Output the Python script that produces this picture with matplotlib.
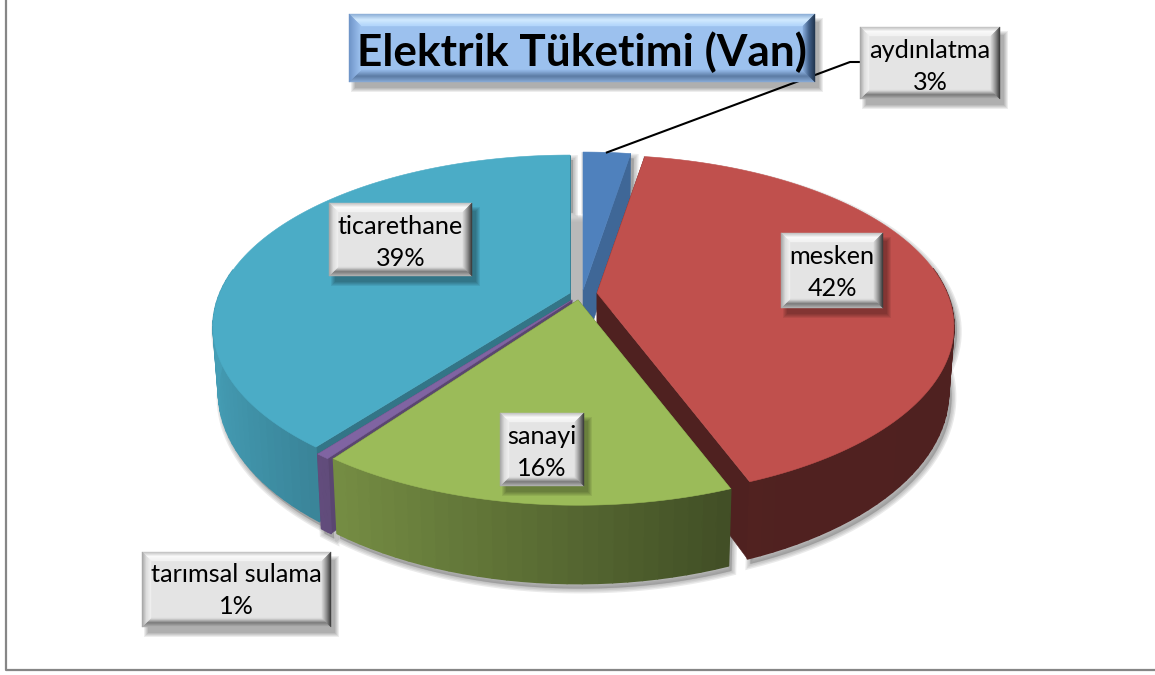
import numpy as np
from matplotlib import pyplot as plt
from matplotlib.patches import Polygon, Rectangle
from matplotlib.colors import to_rgb

plt.rcParams['font.family'] = ['Lato', 'DejaVu Sans']

# data
names = ['aydınlatma', 'mesken', 'sanayi', 'tarımsal sulama', 'ticarethane']
shares = [2.6, 41.6, 15.8, 0.52, 39.48]
title_text = 'Elektrik Tüketimi (Van)'

# style
colors = ['#4F81BD', '#C0504D', '#9BBB59', '#8064A2', '#4BACC6']
cut_shade = [0.8, 0.41, 0.42, 0.7, 0.68]
draw_order = [0, 4, 3, 1, 2]
shift_x = [8, 22, 3, -3, -5]
shift_y = [-8, -5, 2, 2, -5]
label_boxes = [(860, 27, 1000, 99), (781, 233, 883, 308), (500, 413, 584, 486),
               (142, 552, 331, 627), (329, 203, 472, 276)]

CX, CY = 575, 298
RX, RY = 350, 165
P = 0.196
DEPTH = 63
GRAY_BEVEL = dict(face='#e4e4e4', top=['#c4c4c4', '#fafafa', '#f2f2f2'],
                  left=['#a8a8a8', '#dcdcdc', '#eeeeee'],
                  right=['#3c3c3c', '#8c8c8c', '#cfcfcf'],
                  bottom=['#b0b0b0', '#7c7c7c', '#d8d8d8'])
BLUE_BEVEL = dict(face='#9CC1EE', top=['#8fb0d8', '#d2eaff', '#b4d6fb'],
                  left=['#6f95c8', '#86abdc', '#9cc1ee'],
                  right=['#22364f', '#3f5d85', '#7fa3d2'],
                  bottom=['#86a8d4', '#5b7aa3', '#8fb3e2'])


def project(t, r=1.0, dx=0, dy=0):
    u = r * np.sin(t)
    v = r * np.cos(t)
    s = 1 / (1 + P * v)
    return CX + dx + RX * u * s, CY + dy - RY * v * s, s


def low(x, y, s, dx):
    x0 = CX + dx
    return x0 + (x - x0) * 0.985, y + DEPTH * s


def mix(c, k):
    return tuple(np.clip(np.array(to_rgb(c)) * k, 0, 1))


def wall_shade(u):
    return np.interp(u, [-1, -0.6, 0.35, 1], [0.92, 0.76, 0.42, 0.41])


def bevel_box(ax, box, style, w, zorder, shadow=True):
    x0, y0, x1, y1 = box
    if shadow:
        for k in range(5):
            ax.add_patch(Rectangle((x0 + 6 - k, y0 + 8 - k), x1 - x0 + 2 * k - 2, y1 - y0 + 2 * k - 2,
                                   fc='#000000', alpha=0.07, lw=0, zorder=zorder))
    ax.add_patch(Rectangle((x0, y0), x1 - x0, y1 - y0, fc=style['face'], lw=0, zorder=zorder))
    n = int(w)
    for i in range(n):
        a = i
        b = i + 1
        pos = [i / max(n - 1, 1) * 2]
        for side, pts in [('top', [(x0 + a, y0 + a), (x1 - a, y0 + a), (x1 - b, y0 + b), (x0 + b, y0 + b)]),
                          ('bottom', [(x0 + a, y1 - a), (x1 - a, y1 - a), (x1 - b, y1 - b), (x0 + b, y1 - b)]),
                          ('left', [(x0 + a, y0 + a), (x0 + b, y0 + b), (x0 + b, y1 - b), (x0 + a, y1 - a)]),
                          ('right', [(x1 - a, y0 + a), (x1 - b, y0 + b), (x1 - b, y1 - b), (x1 - a, y1 - a)])]:
            stops = np.array([to_rgb(c) for c in style[side]])
            col = [np.interp(pos[0], [0, 1, 2], stops[:, j]) for j in range(3)]
            ax.add_patch(Polygon(pts, closed=True, fc=col, ec=col, lw=0.3, zorder=zorder + 0.1))


fig = plt.figure(figsize=(11.55, 6.75), dpi=100)
ax = fig.add_axes([0, 0, 1, 1])
ax.set_xlim(0, 1155)
ax.set_ylim(675, 0)
ax.axis('off')

# chart frame
ax.plot([6, 6, 1155], [0, 670, 670], color='#868686', lw=1.6, zorder=1)

total = sum(shares)
edges = np.concatenate([[0], np.cumsum(shares)]) / total * 2 * np.pi

# soft shadow under the pie
for i in draw_order:
    tt = np.linspace(edges[i], edges[i + 1], 80)
    x, y, s = project(tt, 1, shift_x[i], shift_y[i])
    xb, yb = low(x, y, s, shift_x[i])
    pts = np.column_stack([np.r_[x, xb[::-1]], np.r_[y, yb[::-1]]]) + [3, 5]
    for lw in [7, 5, 3, 1]:
        ax.add_patch(Polygon(pts, closed=True, fc='#808080', ec='#808080', alpha=0.16, lw=lw, zorder=2))

# grey shadow in the gap at the back
for k in range(8):
    ax.add_patch(Rectangle((571, 215 + k), 12, 90 - k, fc='#b4b4b4', alpha=0.25, lw=0, zorder=2.5))

z = 3
for i in draw_order:
    t0, t1 = edges[i], edges[i + 1]
    dx, dy = shift_x[i], shift_y[i]
    ax_x = CX + dx
    ax_y = CY + dy
    # cut faces
    for t in (t0, t1):
        x, y, s = project(t, 1, dx, dy)
        xb, yb = low(x, y, s, dx)
        ax.add_patch(Polygon([(ax_x, ax_y), (x, y), (xb, yb), (ax_x, ax_y + DEPTH)], closed=True,
                             fc=mix(colors[i], cut_shade[i]), ec=mix(colors[i], cut_shade[i]), lw=0.4, zorder=z))
    # outer wall, shaded strip by strip
    tt = np.linspace(t0, t1, max(int((t1 - t0) * 30), 4))
    for a, b in zip(tt[:-1], tt[1:]):
        if np.cos((a + b) / 2) > 0.15:
            continue
        xa, ya, sa = project(a, 1, dx, dy)
        xc, yc, sc = project(b, 1, dx, dy)
        xa2, ya2 = low(xa, ya, sa, dx)
        xc2, yc2 = low(xc, yc, sc, dx)
        col = mix(colors[i], wall_shade(np.sin((a + b) / 2)))
        ax.add_patch(Polygon([(xa, ya), (xc, yc), (xc2, yc2), (xa2, ya2)], closed=True,
                             fc=col, ec=col, lw=1.2, joinstyle='round', zorder=z))
    # top face
    tt = np.linspace(t0, t1, 120)
    x, y, s = project(tt, 1, dx, dy)
    ax.add_patch(Polygon(np.column_stack([np.r_[ax_x, x], np.r_[ax_y, y]]), closed=True,
                         fc=colors[i], ec=colors[i], lw=0.4, zorder=z + 0.5))
    z += 1

# leader line for the small slice
lx, ly, _ = project((edges[0] + edges[1]) / 2, 1, shift_x[0], shift_y[0])
ax.plot([lx, 850, 860], [ly, 62, 62], color='black', lw=1.5, zorder=9)

# title
bevel_box(ax, (349, 14, 815, 82), BLUE_BEVEL, 12, 10)
ax.text(582, 52, title_text, ha='center', va='center', fontsize=31.8, fontweight='bold', color='black', zorder=11)

# data labels
for name, share, box in zip(names, shares, label_boxes):
    bevel_box(ax, box, GRAY_BEVEL, 9, 12)
    mx = (box[0] + box[2]) / 2
    ax.text(mx, box[1] + 23, name, ha='center', va='center', fontsize=18.2, color='black', zorder=13)
    ax.text(mx, box[1] + 55, f'{share / total * 100:.0f}%', ha='center', va='center', fontsize=18.2,
            color='black', zorder=13)

fig.savefig('out.png', dpi=100)
